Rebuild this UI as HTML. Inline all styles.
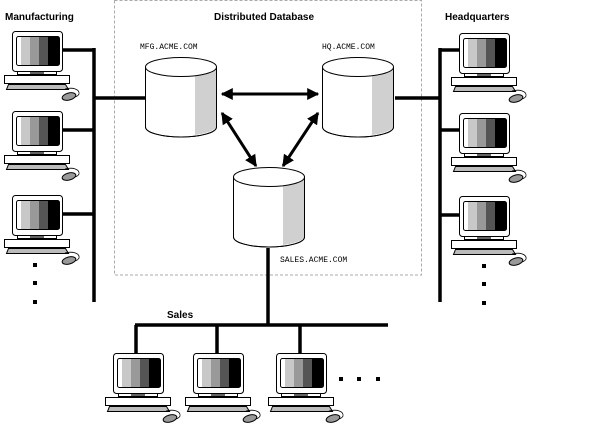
<!DOCTYPE html>
<html><head><style>html,body{margin:0;padding:0;background:#fff}svg{display:block}</style></head>
<body>
<svg width="600" height="432" viewBox="0 0 600 432" xmlns="http://www.w3.org/2000/svg" font-family="Liberation Sans, sans-serif">
<defs>
<g id="pc">
  <rect x="0.5" y="0.5" width="50" height="40" rx="3" fill="#fff" stroke="#000"/>
  <rect x="4.5" y="5.5" width="43" height="29" rx="2" fill="#fff" stroke="#000"/>
  <rect x="9" y="6" width="9" height="28" fill="#c8c8c8"/>
  <rect x="18" y="6" width="9" height="28" fill="#999"/>
  <rect x="27" y="6" width="9" height="28" fill="#555"/>
  <rect x="36" y="6" width="11" height="28" fill="#000"/>
  <rect x="5.5" y="40.5" width="39" height="3" fill="#fff" stroke="#000"/>
  <rect x="18" y="41" width="14" height="2" fill="#666"/>
  <rect x="-7.5" y="44.5" width="65" height="8" fill="#fff" stroke="#000"/>
  <path d="M-3.5 53.5 L53.5 53.5 L56.5 58.5 L-5.5 58.5 Z" fill="#bbb" stroke="#000"/>
  <path d="M53 58 C60 56 68 58 67 63 C66 66 62 66 60 67" fill="none" stroke="#000" stroke-width="0.8"/>
  <ellipse cx="57" cy="65.5" rx="7" ry="3.5" fill="#999" stroke="#000" transform="rotate(-15 57 65.5)"/>
</g>
<g id="db">
  <path d="M0.5 10 L0.5 70 A35.5 10 0 0 0 71.5 70 L71.5 10" fill="#fff" stroke="#000"/>
  <path d="M50 16 L71 10 L71 70 A35 10 0 0 1 50 78 Z" fill="#d0d0d0"/>
  <path d="M0.5 10 L0.5 70 A35.5 10 0 0 0 71.5 70 L71.5 10" fill="none" stroke="#000"/>
  <ellipse cx="36" cy="10" rx="35.5" ry="9.5" fill="#fff" stroke="#000"/>
</g>
<marker id="ah" viewBox="0 0 10 10" refX="9" refY="5" markerWidth="4" markerHeight="4" orient="auto-start-reverse"><path d="M0 0 L10 5 L0 10 Z" fill="#000"/></marker>
</defs>

<rect x="114.5" y="0.5" width="307" height="274.5" fill="none" stroke="#aaa" stroke-dasharray="3,2"/>

<text x="5" y="20" font-size="10" font-weight="bold">Manufacturing</text>
<text x="445" y="20" font-size="10" font-weight="bold">Headquarters</text>
<text x="214" y="20" font-size="10" font-weight="bold">Distributed Database</text>
<text x="167" y="318" font-size="10" font-weight="bold">Sales</text>
<g font-family="Liberation Mono, monospace" font-size="8">
<text x="140" y="49">MFG.ACME.COM</text>
<text x="322" y="49">HQ.ACME.COM</text>
<text x="280" y="262">SALES.ACME.COM</text>
</g>

<g stroke="#000" stroke-width="3.5" fill="none">
  <path d="M94 48 V302 M61 50 H94 M61 130 H94 M61 214 H94 M94 98 H145"/>
  <path d="M440 48 V302 M440 50 H459 M440 130 H459 M440 215 H459 M395 98 H440"/>
  <path d="M268 248 V325 M135 325 H388 M136 325 V355 M217 325 V355 M300 325 V355"/>
</g>

<g stroke="#000" stroke-width="3" fill="none" marker-start="url(#ah)" marker-end="url(#ah)">
  <line x1="222" y1="94" x2="318" y2="94"/>
  <line x1="222" y1="113" x2="256" y2="166"/>
  <line x1="318" y1="113" x2="283" y2="166"/>
</g>

<use href="#db" x="145" y="57"/>
<use href="#db" x="322" y="57"/>
<use href="#db" x="233" y="167"/>

<use href="#pc" x="12" y="31"/>
<use href="#pc" x="12" y="111"/>
<use href="#pc" x="12" y="195"/>
<use href="#pc" x="459" y="33"/>
<use href="#pc" x="459" y="113"/>
<use href="#pc" x="459" y="196"/>
<use href="#pc" x="113" y="353"/>
<use href="#pc" x="193" y="353"/>
<use href="#pc" x="276" y="353"/>

<g fill="#000">
  <rect x="33" y="263" width="4" height="4"/><rect x="33" y="281" width="4" height="4"/><rect x="33" y="300" width="4" height="4"/>
  <rect x="482" y="264" width="4" height="4"/><rect x="482" y="282" width="4" height="4"/><rect x="482" y="301" width="4" height="4"/>
  <rect x="339" y="377" width="4" height="4"/><rect x="357" y="377" width="4" height="4"/><rect x="376" y="377" width="4" height="4"/>
</g>
</svg>
</body></html>
